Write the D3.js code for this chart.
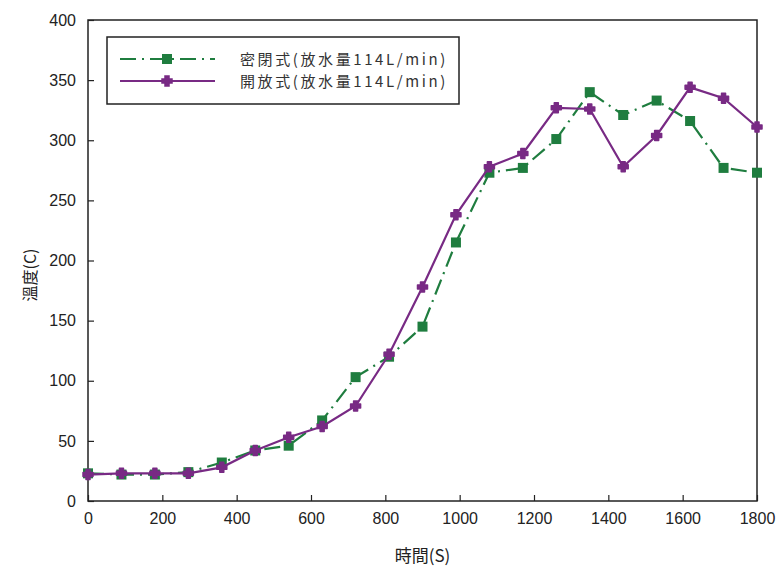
<!DOCTYPE html>
<html>
<head>
<meta charset="utf-8">
<script src="https://cdn.jsdelivr.net/npm/d3@7"></script>
<style>
  body { margin: 0; background: #fff; }
  svg text { font-family: "Liberation Sans", Arial, sans-serif; }
  .cjk { font-family: "Noto Sans CJK TC", "Noto Sans CJK SC", sans-serif; }
</style>
</head>
<body>
<div id="chart"></div>
<script>
// time (s) and temperature (C)
var times = [0, 90, 180, 270, 360, 450, 540, 630, 720, 810, 900, 990, 1080, 1170, 1260, 1350, 1440, 1530, 1620, 1710, 1800];
var closedTemps = [23, 22, 22, 24, 32, 42, 46, 67, 103, 120, 145, 215, 273, 277, 301, 340, 321, 333, 316, 277, 273];
var openTemps = [22, 23, 23, 23, 28, 42, 53, 62, 79, 122, 178, 238, 278, 289, 327, 326, 278, 304, 344, 335, 311];
var xTicks = [0, 200, 400, 600, 800, 1000, 1200, 1400, 1600, 1800];
var yTicks = [0, 50, 100, 150, 200, 250, 300, 350, 400];
var seriesNames = ["密閉式(放水量114L/min)", "開放式(放水量114L/min)"];

var green = "#1f7d3f", purple = "#782a84";

var svg = d3.select("#chart")
    .append("svg")
    .attr("width", 780)
    .attr("height", 572);

var pLeft = 88, pRight = 757, pTop = 20, pBottom = 501;

var x = d3.scaleLinear().domain([0, 1800]).range([pLeft, pRight]);
var y = d3.scaleLinear().domain([0, 400]).range([pBottom, pTop]);

// frame
svg.append("rect")
    .attr("x", pLeft).attr("y", pTop)
    .attr("width", pRight - pLeft).attr("height", pBottom - pTop)
    .attr("fill", "none").attr("stroke", "#222").attr("stroke-width", 1.5);

var xAxis = svg.append("g")
    .attr("transform", "translate(0," + pBottom + ")")
    .call(d3.axisBottom(x).tickValues(xTicks).tickSize(-6).tickPadding(12).tickFormat(d3.format("d")));
var yAxis = svg.append("g")
    .attr("transform", "translate(" + pLeft + ",0)")
    .call(d3.axisLeft(y).tickValues(yTicks).tickSize(-6).tickPadding(12).tickFormat(d3.format("d")));

[xAxis, yAxis].forEach(function(g) {
    g.select(".domain").remove();
    g.selectAll(".tick line").attr("stroke", "#222").attr("stroke-width", 1.2);
    g.selectAll(".tick text")
        .attr("fill", "#222")
        .style("font-size", "16px")
        .style("font-family", "'Liberation Sans Narrow', 'Liberation Sans', sans-serif");
});

// axis titles
svg.append("text")
    .attr("class", "cjk")
    .attr("x", (pLeft + pRight) / 2).attr("y", 562)
    .attr("text-anchor", "middle")
    .attr("fill", "#222")
    .style("font-size", "17px")
    .text("時間(S)");

svg.append("text")
    .attr("class", "cjk")
    .attr("transform", "translate(36,275) rotate(-90)")
    .attr("text-anchor", "middle")
    .attr("fill", "#222")
    .style("font-size", "16px")
    .text("溫度(C)");

var line = d3.line()
    .x(function(d) { return x(d[0]); })
    .y(function(d) { return y(d[1]); });

var closedData = d3.zip(times, closedTemps);
var openData = d3.zip(times, openTemps);

var plusPath = "M-2,-5H2V-2H5V2H2V5H-2V2H-5V-2H-2Z";

// closed (green, dash-dot)
svg.append("path")
    .datum(closedData)
    .attr("d", line)
    .attr("fill", "none")
    .attr("stroke", green)
    .attr("stroke-width", 2.2)
    .attr("stroke-dasharray", "16,6,2,6");

svg.selectAll(".sq")
    .data(closedData)
    .enter().append("rect")
    .attr("class", "sq")
    .attr("x", function(d) { return x(d[0]) - 5; })
    .attr("y", function(d) { return y(d[1]) - 5; })
    .attr("width", 10).attr("height", 10)
    .attr("fill", green);

// open (purple, solid)
svg.append("path")
    .datum(openData)
    .attr("d", line)
    .attr("fill", "none")
    .attr("stroke", purple)
    .attr("stroke-width", 2.2);

svg.selectAll(".pl")
    .data(openData)
    .enter().append("path")
    .attr("class", "pl")
    .attr("d", plusPath)
    .attr("transform", function(d) { return "translate(" + x(d[0]) + "," + y(d[1]) + ")"; })
    .attr("fill", purple)
    .attr("stroke", purple)
    .attr("stroke-width", 1.5)
    .attr("stroke-linejoin", "round");

// legend
var lg = svg.append("g");
lg.append("rect")
    .attr("x", 107).attr("y", 37)
    .attr("width", 352).attr("height", 67)
    .attr("fill", "#fff").attr("stroke", "#222").attr("stroke-width", 1.5);

lg.append("line")
    .attr("x1", 120).attr("x2", 215).attr("y1", 59).attr("y2", 59)
    .attr("stroke", green).attr("stroke-width", 2.2)
    .attr("stroke-dasharray", "16,6,2,6");
lg.append("rect")
    .attr("x", 162).attr("y", 54).attr("width", 10).attr("height", 10)
    .attr("fill", green);

lg.append("line")
    .attr("x1", 120).attr("x2", 215).attr("y1", 81).attr("y2", 81)
    .attr("stroke", purple).attr("stroke-width", 2.2);
lg.append("path")
    .attr("d", plusPath)
    .attr("transform", "translate(167,81)")
    .attr("fill", purple).attr("stroke", purple).attr("stroke-width", 1.5);

lg.selectAll(".lt")
    .data(seriesNames)
    .enter().append("text")
    .attr("class", "cjk lt")
    .attr("x", 240)
    .attr("y", function(d, i) { return 65 + i * 22; })
    .attr("fill", "#333")
    .style("font-size", "15px")
    .style("letter-spacing", "2.6px")
    .text(function(d) { return d; });
</script>
</body>
</html>
